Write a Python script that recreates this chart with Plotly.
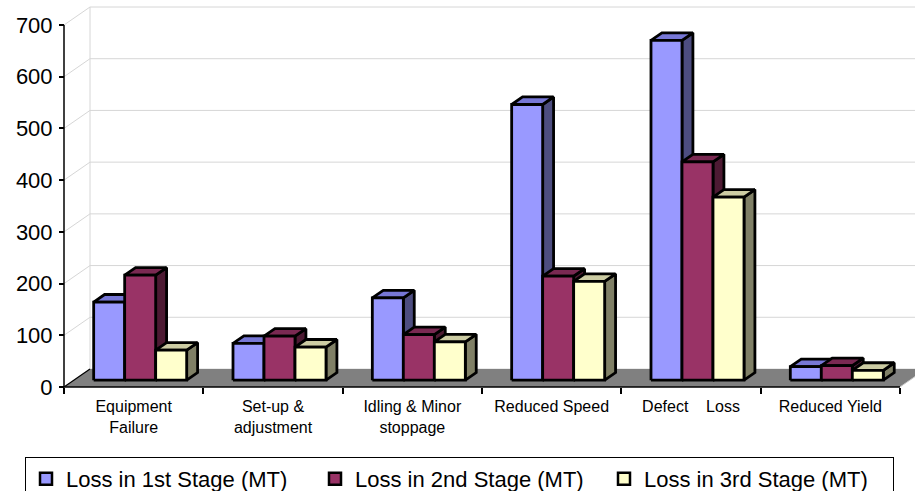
import plotly.graph_objects as go

# ---- data -----------------------------------------------------------------
categories = ["Equipment<br>Failure", "Set-up &<br>adjustment", "Idling & Minor<br>stoppage",
              "Reduced Speed", "Defect\u00a0\u00a0\u00a0 Loss", "Reduced Yield"]
series_names = ["Loss in 1st Stage (MT)", "Loss in 2nd Stage (MT)", "Loss in 3rd Stage (MT)"]
stage1 = [151, 71, 159, 533, 657, 26]
stage2 = [203, 85, 88, 201, 422, 28]
stage3 = [58, 64, 74, 191, 354, 19]
y_ticks = [0, 100, 200, 300, 400, 500, 600, 700]

# ---- styling --------------------------------------------------------------
FRONT = ["#9999FF", "#993366", "#FFFFCC"]
TOP = ["#7777D6", "#7A2952", "#CCCCA3"]
SIDE = ["#4D4D80", "#4D1A33", "#808066"]
FONT = "Liberation Sans, Arial, sans-serif"

W, H = 915, 491
ML, MR, MT, MB = 40, 0, 5, 96
ORIGIN_PX = (64, 387)          # pixel position of (x=0, y=0) on the front plane
PX_PER_CAT = 139.33            # pixels per category
PX_PER_VAL = 362 / 700         # pixels per value unit

# oblique depth of the floor, in data units
DX = 26 / PX_PER_CAT
DY = 18 / PX_PER_VAL
F0, F1 = 0.38, 0.80            # bars occupy this slice of the depth
BAR_W = 31 / PX_PER_CAT
SHIFT = 6.5 / PX_PER_CAT - F0 * DX
N = len(categories)

X0 = (ML - ORIGIN_PX[0]) / PX_PER_CAT
X1 = (W - MR - ORIGIN_PX[0]) / PX_PER_CAT
Y0 = (ORIGIN_PX[1] - (H - MB)) / PX_PER_VAL
Y1 = (ORIGIN_PX[1] - MT) / PX_PER_VAL
plot_w = W - ML - MR
plot_h = H - MT - MB

fig = go.Figure()


def poly(xs, ys, fill, line_color, width):
    fig.add_trace(go.Scatter(x=xs, y=ys, mode="lines", fill="toself", fillcolor=fill,
                             line=dict(color=line_color, width=width), showlegend=False,
                             hoverinfo="skip"))


def seg(xs, ys, color, width):
    fig.add_trace(go.Scatter(x=xs, y=ys, mode="lines", line=dict(color=color, width=width),
                             showlegend=False, hoverinfo="skip"))


# walls: gridlines on back wall and diagonals on the side wall
gx, gy = [], []
for v in y_ticks:
    gx += [DX, X1 + 1, None, 0, DX, None]
    gy += [v + DY, v + DY, None, v, v + DY, None]
gx += [DX, DX]
gy += [DY, y_ticks[-1] + DY]
seg(gx, gy, "#D6D6D6", 1)

# floor
poly([0, N, N + DX, DX, 0], [0, 0, DY, DY, 0], "#808080", "rgba(0,0,0,0)", 0)
seg([N, N + DX], [0, DY], "#C8C8C8", 1)
seg([0, DX], [0, DY], "#000000", 1.2)

# bars (front, top and right-side faces computed from each value)
for j, vals in enumerate([stage1, stage2, stage3]):
    fx, fy, tx, ty, sx, sy = [], [], [], [], [], []
    a0x, a0y, a1x, a1y = F0 * DX, F0 * DY, F1 * DX, F1 * DY
    for g, v in enumerate(vals):
        xl = g + 0.5 + SHIFT - 1.5 * BAR_W + j * BAR_W
        xr = xl + BAR_W
        fx += [xl + a0x, xr + a0x, xr + a0x, xl + a0x, xl + a0x, None]
        fy += [a0y, a0y, v + a0y, v + a0y, a0y, None]
        tx += [xl + a0x, xr + a0x, xr + a1x, xl + a1x, xl + a0x, None]
        ty += [v + a0y, v + a0y, v + a1y, v + a1y, v + a0y, None]
        sx += [xr + a0x, xr + a1x, xr + a1x, xr + a0x, xr + a0x, None]
        sy += [a0y, a1y, v + a1y, v + a0y, a0y, None]
    poly(sx, sy, SIDE[j], "#000000", 2.8)
    poly(tx, ty, TOP[j], "#000000", 2.8)
    poly(fx, fy, FRONT[j], "#000000", 2.8)

# front axis lines
seg([0, 0], [0, y_ticks[-1]], "#000000", 1.5)
seg([0, N], [0, 0], "#000000", 1.5)

# legend entries
for j, name in enumerate(series_names):
    fig.add_trace(go.Scatter(x=[None], y=[None], mode="markers", name=name,
                             marker=dict(symbol="square", size=12, color=FRONT[j],
                                         line=dict(color="#000000", width=2.5))))

fig.update_layout(
    width=W, height=H, autosize=False,
    margin=dict(l=ML, r=MR, t=MT, b=MB, pad=0, autoexpand=False),
    paper_bgcolor="white", plot_bgcolor="white",
    font=dict(family=FONT, color="#000000"),
    xaxis=dict(range=[X0, X1], showgrid=False, zeroline=False, showline=False,
               tickmode="array", tickvals=list(range(N + 1)), ticktext=[""] * (N + 1),
               ticks="outside", ticklen=6, tickwidth=1.5, tickcolor="#000000",
               anchor="free", position=(H - MB - ORIGIN_PX[1]) / plot_h, fixedrange=True,
               automargin=False),
    xaxis2=dict(range=[X0, X1], overlaying="x", showgrid=False, zeroline=False,
                showline=False, tickmode="array",
                tickvals=[i + 0.5 for i in range(N)], ticktext=categories, ticks="",
                tickfont=dict(size=16), ticklabelstandoff=8,
                anchor="free", position=(H - MB - ORIGIN_PX[1]) / plot_h, side="bottom",
                fixedrange=True, automargin=False),
    yaxis=dict(range=[Y0, Y1], showgrid=False, zeroline=False, showline=False,
               tickmode="array", tickvals=y_ticks, ticks="outside", ticklen=5,
               tickwidth=1.5, tickcolor="#000000", tickfont=dict(size=22),
               ticklabelstandoff=2, automargin=False,
               anchor="free", position=(ORIGIN_PX[0] - ML) / plot_w, fixedrange=True),
    legend=dict(orientation="h", x=(25 - ML) / plot_w, y=(H - MB - 457) / plot_h,
                xanchor="left", yanchor="top", bordercolor="#000000", borderwidth=1,
                font=dict(size=22), bgcolor="white", itemclick=False,
                entrywidth=244, entrywidthmode="pixels"),
    showlegend=True,
)

# attach the label axis so xaxis2 is drawn
fig.add_trace(go.Scatter(x=[None], y=[None], xaxis="x2", showlegend=False, hoverinfo="skip"))

fig.write_html("out.html")
